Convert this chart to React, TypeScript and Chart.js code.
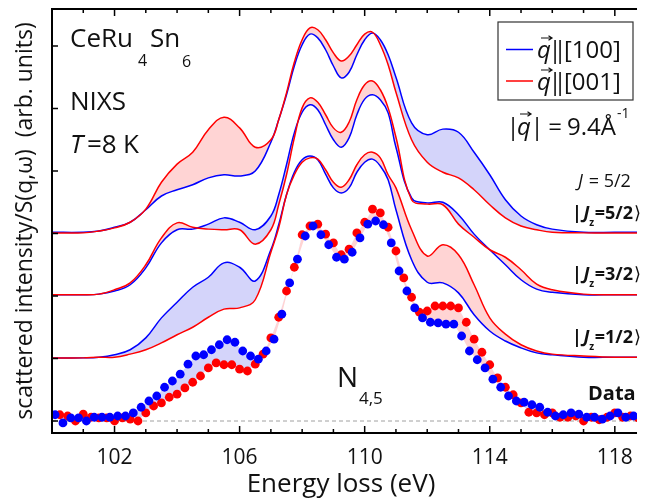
import React, { useEffect, useRef } from "react";
import { Chart, registerables } from "chart.js";

Chart.register(...registerables);

// ---------- data ----------
// energy grid of the calculated spectra (eV)
const curveEnergy = [100, 101, 101.5, 102, 102.5, 103, 103.5, 104, 104.5, 105, 105.5, 106, 106.5, 107, 107.25, 107.5, 107.75, 108, 108.25, 108.5, 108.75, 109, 109.25, 109.5, 109.75, 110, 110.25, 110.5, 110.75, 111, 111.5, 112, 112.5, 113, 113.5, 114, 114.5, 115, 115.5, 116, 117, 118, 119];

// |Jz=5/2> (offset +3)
const calc52_q100 = [3.02, 3.02, 3.04, 3.10, 3.18, 3.38, 3.60, 3.70, 3.78, 3.89, 3.94, 3.92, 4.00, 4.46, 4.82, 5.22, 5.68, 6.02, 6.19, 6.13, 5.94, 5.68, 5.49, 5.58, 5.86, 6.10, 6.21, 6.10, 5.86, 5.50, 4.77, 4.58, 4.67, 4.62, 4.30, 3.94, 3.54, 3.28, 3.14, 3.07, 3.02, 3.02, 3.02];
const calc52_q001 = [3.01, 3.01, 3.04, 3.09, 3.18, 3.39, 3.82, 4.11, 4.30, 4.66, 4.86, 4.69, 4.38, 4.50, 4.82, 5.25, 5.74, 6.10, 6.29, 6.26, 6.10, 5.89, 5.76, 5.84, 6.02, 6.19, 6.22, 6.02, 5.70, 5.26, 4.50, 4.14, 3.98, 3.89, 3.70, 3.46, 3.25, 3.12, 3.06, 3.02, 3.01, 3.01, 3.01];
// |Jz=3/2> (offset +2)
const calc32_q100 = [2.02, 2.02, 2.03, 2.08, 2.18, 2.45, 2.85, 3.06, 3.07, 3.15, 3.25, 3.18, 3.06, 3.28, 3.62, 4.10, 4.61, 4.94, 5.06, 4.98, 4.74, 4.50, 4.38, 4.53, 4.90, 5.15, 5.22, 5.14, 4.93, 4.38, 3.57, 3.49, 3.50, 3.30, 2.99, 2.74, 2.50, 2.26, 2.11, 2.06, 2.02, 2.02, 2.02];
const calc32_q001 = [2.02, 2.02, 2.03, 2.10, 2.21, 2.50, 2.93, 3.17, 3.10, 3.07, 3.06, 3.06, 2.83, 3.06, 3.46, 3.94, 4.53, 5.01, 5.17, 5.10, 4.90, 4.69, 4.62, 4.78, 5.14, 5.38, 5.44, 5.30, 5.01, 4.54, 3.54, 3.47, 3.46, 3.15, 2.94, 2.74, 2.62, 2.42, 2.19, 2.10, 2.03, 2.02, 2.02];
// |Jz=1/2> (offset +1)
const calc12_q100 = [1.01, 1.01, 1.02, 1.06, 1.14, 1.33, 1.65, 1.90, 2.14, 2.30, 2.53, 2.46, 2.24, 2.74, 3.14, 3.62, 3.98, 4.18, 4.24, 4.18, 3.95, 3.73, 3.65, 3.73, 3.98, 4.14, 4.19, 4.08, 3.86, 3.38, 2.58, 2.22, 2.21, 2.05, 1.70, 1.44, 1.28, 1.17, 1.09, 1.06, 1.02, 1.02, 1.02];
const calc12_q001 = [1.01, 1.01, 1.02, 1.02, 1.07, 1.14, 1.25, 1.38, 1.50, 1.66, 1.79, 1.81, 1.94, 2.70, 3.09, 3.62, 3.94, 4.14, 4.21, 4.19, 4.02, 3.82, 3.74, 3.86, 4.10, 4.26, 4.30, 4.21, 3.94, 3.73, 3.06, 2.64, 2.82, 2.66, 2.18, 1.65, 1.39, 1.22, 1.12, 1.07, 1.04, 1.02, 1.02];

// measured NIXS data
const dataEnergy_q100 = [100.1, 100.35, 100.6, 100.85, 101.1, 101.35, 101.6, 101.85, 102.1, 102.35, 102.6, 102.85, 103.1, 103.35, 103.6, 103.85, 104.1, 104.35, 104.6, 104.85, 105.1, 105.35, 105.6, 105.85, 106.1, 106.35, 106.6, 106.85, 107.1, 107.35, 107.6, 107.85, 108.1, 108.35, 108.6, 108.85, 109.1, 109.35, 109.6, 109.85, 110.1, 110.35, 110.6, 110.85, 111.1, 111.35, 111.6, 111.85, 112.1, 112.35, 112.6, 112.85, 113.1, 113.35, 113.6, 113.85, 114.1, 114.35, 114.6, 114.85, 115.1, 115.35, 115.6, 115.85, 116.1, 116.35, 116.6, 116.85, 117.1, 117.35, 117.6, 117.85, 118.1, 118.35, 118.6];
const dataY_q100 = [0.10, -0.03, 0.05, 0.05, 0.00, 0.06, 0.06, 0.06, 0.08, 0.08, 0.13, 0.22, 0.32, 0.40, 0.54, 0.64, 0.75, 0.91, 1.04, 1.06, 1.14, 1.22, 1.30, 1.26, 1.12, 1.04, 0.99, 1.12, 1.31, 1.71, 2.21, 2.59, 2.96, 3.12, 2.98, 2.82, 2.62, 2.59, 2.70, 2.93, 3.15, 3.20, 3.14, 2.85, 2.40, 2.08, 1.81, 1.65, 1.58, 1.57, 1.55, 1.55, 1.36, 1.12, 0.98, 0.85, 0.67, 0.54, 0.40, 0.32, 0.30, 0.26, 0.22, 0.14, 0.08, 0.10, 0.13, 0.11, 0.06, 0.06, 0.03, 0.08, 0.13, 0.06, 0.08];
const dataEnergy_q001 = [100.25, 100.5, 100.75, 101, 101.25, 101.5, 101.75, 102, 102.25, 102.5, 102.75, 103, 103.25, 103.5, 103.75, 104, 104.25, 104.5, 104.75, 105, 105.25, 105.5, 105.75, 106, 106.25, 106.5, 106.75, 107, 107.25, 107.5, 107.75, 108, 108.25, 108.5, 108.75, 109, 109.25, 109.5, 109.75, 110, 110.25, 110.5, 110.75, 111, 111.25, 111.5, 111.75, 112, 112.25, 112.5, 112.75, 113, 113.25, 113.5, 113.75, 114, 114.25, 114.5, 114.75, 115, 115.25, 115.5, 115.75, 116, 116.25, 116.5, 116.75, 117, 117.25, 117.5, 117.75, 118, 118.25, 118.5, 118.75];
const dataY_q001 = [0.10, 0.08, 0.00, 0.11, 0.06, 0.05, 0.05, 0.00, 0.05, 0.03, 0.00, 0.13, 0.24, 0.29, 0.38, 0.43, 0.53, 0.62, 0.72, 0.85, 0.93, 0.90, 0.90, 0.83, 0.80, 0.91, 1.07, 1.33, 1.66, 2.08, 2.46, 2.98, 3.12, 3.15, 2.99, 2.85, 2.66, 2.75, 3.01, 3.18, 3.39, 3.33, 3.10, 2.72, 2.29, 1.98, 1.74, 1.76, 1.84, 1.84, 1.84, 1.81, 1.58, 1.31, 1.10, 0.90, 0.69, 0.54, 0.42, 0.29, 0.14, 0.13, 0.10, 0.13, 0.06, 0.06, 0.08, 0.00, 0.06, 0.02, 0.06, 0.13, 0.06, 0.08, 0.05];

// axes
const xTickValues = [100, 101, 102, 103, 104, 105, 106, 107, 108, 109, 110, 111, 112, 113, 114, 115, 116, 117, 118];
const xMajorTicks = [102, 106, 110, 114, 118];
const yTickValues = [0, 1, 2, 3, 4, 5, 6];
const X_MIN = 100;
const X_MAX = 118.71;
const Y_MIN = -0.192;
const Y_MAX = 6.592;

const X_TITLE = "Energy loss (eV)";
const Y_TITLE = "scattered intensity/S(q,\u03C9)  (arb. units)";
const J_LABELS = ["=5/2", "=3/2", "=1/2"];

// ---------- style ----------
const FONT = "'Open Sans', 'DejaVu Sans', sans-serif";
const BLUE = "#0000ff";
const RED = "#ff0000";
const BLUE_FILL = "rgba(212,212,250,1)";
const RED_FILL = "rgba(255,212,212,1)";
const TEXT = "#111";

const pts = (xs: number[], ys: number[]) => xs.map((x, i) => ({ x, y: ys[i] }));

const curveDs = (label: string, vals: number[], color: string, order: number, fillTarget?: number) => ({
  label,
  data: pts(curveEnergy, vals),
  borderColor: color,
  borderWidth: 1.5,
  pointRadius: 0,
  tension: 0.4,
  fill: fillTarget === undefined ? false : { target: fillTarget, above: BLUE_FILL, below: RED_FILL },
  order,
});

const f = (size: number, opts: { bold?: boolean; italic?: boolean } = {}) =>
  `${opts.italic ? "italic " : ""}${opts.bold ? "bold " : ""}${size}px ${FONT}`;

const drawArrow = (ctx: CanvasRenderingContext2D, x1: number, x2: number, y: number) => {
  ctx.beginPath();
  ctx.moveTo(x1, y);
  ctx.lineTo(x2, y);
  ctx.moveTo(x2 - 3.5, y - 2.2);
  ctx.lineTo(x2, y);
  ctx.lineTo(x2 - 3.5, y + 2.2);
  ctx.stroke();
};

const decorPlugin = {
  id: "decor",
  beforeDatasetsDraw(chart: any) {
    const { ctx, chartArea: ca, scales } = chart;
    const y0 = scales.y.getPixelForValue(0);
    ctx.save();
    ctx.strokeStyle = "#a0a0a0";
    ctx.lineWidth = 1;
    ctx.setLineDash([4, 3]);
    ctx.beginPath();
    ctx.moveTo(ca.left, y0);
    ctx.lineTo(ca.right, y0);
    ctx.stroke();
    ctx.restore();
  },
  afterDraw(chart: any) {
    const { ctx, chartArea: ca, scales } = chart;
    const xs = scales.x;
    const ys = scales.y;
    ctx.save();
    ctx.setLineDash([]);
    // frame
    ctx.strokeStyle = "#000";
    ctx.lineWidth = 2;
    ctx.beginPath();
    ctx.moveTo(ca.left, ca.top - 1);
    ctx.lineTo(ca.left, ca.bottom + 1);
    ctx.moveTo(ca.left - 1, ca.bottom);
    ctx.lineTo(ca.right, ca.bottom);
    ctx.moveTo(ca.left - 1, ca.top);
    ctx.lineTo(ca.right, ca.top);
    ctx.stroke();
    // ticks (inward)
    ctx.lineWidth = 1.5;
    ctx.beginPath();
    for (const e of xTickValues) {
      const px = xs.getPixelForValue(e);
      if (px <= ca.left + 1 || px > ca.right) continue;
      const len = xMajorTicks.includes(e) ? 7 : 4;
      ctx.moveTo(px, ca.bottom);
      ctx.lineTo(px, ca.bottom - len);
      ctx.moveTo(px, ca.top);
      ctx.lineTo(px, ca.top + len);
    }
    for (const v of yTickValues) {
      const py = ys.getPixelForValue(v);
      ctx.moveTo(ca.left, py);
      ctx.lineTo(ca.left + 6, py);
    }
    ctx.stroke();

    ctx.fillStyle = TEXT;
    ctx.textBaseline = "alphabetic";
    const t = (s: string, x: number, y: number, size: number, o: { bold?: boolean; italic?: boolean; align?: CanvasTextAlign } = {}) => {
      ctx.font = f(size, o);
      ctx.textAlign = o.align || "left";
      ctx.fillText(s, x, y);
      return ctx.measureText(s).width;
    };

    // sample / method / temperature
    t("CeRu", 70, 47, 26);
    t("4", 138, 66, 16);
    t("Sn", 150, 47, 26);
    t("6", 182, 67, 16);
    t("NIXS", 70, 110, 26);
    t("T", 70, 153, 26, { italic: true });
    t("=8", 87, 153, 26);
    t("K", 123, 153, 26);

    // legend box
    ctx.strokeStyle = "#333";
    ctx.lineWidth = 1.2;
    ctx.strokeRect(498, 22, 135, 78);
    ctx.lineWidth = 1.5;
    ctx.strokeStyle = BLUE;
    ctx.beginPath();
    ctx.moveTo(506, 49.5);
    ctx.lineTo(533, 49.5);
    ctx.stroke();
    ctx.strokeStyle = RED;
    ctx.beginPath();
    ctx.moveTo(506, 81);
    ctx.lineTo(533, 81);
    ctx.stroke();
    ctx.strokeStyle = TEXT;
    ctx.lineWidth = 1.2;
    const legendRows: [string, number][] = [["[100]", 58], ["[001]", 90]];
    for (const [lab, base] of legendRows) {
      t("q", 537, base, 24, { italic: true });
      drawArrow(ctx, 541, 552, base - 20);
      t("|", 555, base, 24, { align: "center" });
      t("|", 560, base, 24, { align: "center" });
      t(lab, 564, base, 24);
    }
    // |q| = 9.4 Å^-1
    t("|", 513, 135, 24, { align: "center" });
    t("q", 517, 135, 24, { italic: true });
    drawArrow(ctx, 520, 531, 114);
    t("|", 537, 135, 24, { align: "center" });
    t("=", 555, 135, 24, { align: "center" });
    t("9.4\u00C5", 567, 135, 24);
    t("-1", 617, 118, 14);

    // J labels
    t("J", 578, 187, 18, { italic: true });
    t(" = 5/2", 584, 187, 18);
    const jBases = [219, 280, 343];
    J_LABELS.forEach((lab, i) => {
      const base = jBases[i];
      let x = 572;
      x += t("|", x, base, 18, { bold: true }) + 1.5;
      x += t("J", x, base, 18, { bold: true, italic: true });
      x += t("z", x, base + 7, 10, { bold: true }) + 0.5;
      x += t(lab, x, base, 18, { bold: true }) + 1;
      t("\u27E9", x, base, 18);
    });
    t("Data", 588, 400, 20, { bold: true });
    t("N", 337, 387, 28);
    t("4,5", 359, 404, 17);

    // x-axis title
    t(X_TITLE, 341, 492, 26, { align: "center" });
    ctx.restore();
  },
};

export default function App() {
  const ref = useRef<HTMLCanvasElement>(null);
  useEffect(() => {
    if (!ref.current) return;
    const chart = new Chart(ref.current, {
      type: "line",
      data: {
        datasets: [
          curveDs("|Jz=5/2> q||[100]", calc52_q100, BLUE, 3, 1),
          curveDs("|Jz=5/2> q||[001]", calc52_q001, RED, 2),
          curveDs("|Jz=3/2> q||[100]", calc32_q100, BLUE, 3, 3),
          curveDs("|Jz=3/2> q||[001]", calc32_q001, RED, 2),
          curveDs("|Jz=1/2> q||[100]", calc12_q100, BLUE, 3, 5),
          curveDs("|Jz=1/2> q||[001]", calc12_q001, RED, 2),
          {
            label: "Data q||[100]",
            data: pts(dataEnergy_q100, dataY_q100),
            showLine: true,
            borderColor: "rgba(0,0,0,0)",
            borderWidth: 1,
            pointRadius: 4.4,
            pointBorderWidth: 0,
            pointBackgroundColor: BLUE,
            backgroundColor: BLUE,
            fill: { target: 7, above: BLUE_FILL, below: RED_FILL },
            order: 0,
          },
          {
            label: "Data q||[001]",
            data: pts(dataEnergy_q001, dataY_q001),
            showLine: true,
            borderColor: "rgba(0,0,0,0)",
            borderWidth: 1,
            pointRadius: 4.4,
            pointBorderWidth: 0,
            pointBackgroundColor: RED,
            backgroundColor: RED,
            fill: false,
            order: 1,
          },
        ] as any,
      },
      options: {
        responsive: false,
        animation: false,
        events: [],
        layout: { padding: { top: 9, right: 0, left: 0, bottom: 0 } },
        plugins: {
          legend: { display: false },
          tooltip: { enabled: false },
          filler: { drawTime: "beforeDatasetsDraw", propagate: false },
        } as any,
        scales: {
          x: {
            type: "linear",
            min: X_MIN,
            max: X_MAX,
            grid: { display: false, drawTicks: false },
            border: { display: false },
            ticks: {
              stepSize: 1,
              includeBounds: false,
              autoSkip: false,
              maxRotation: 0,
              padding: 12,
              color: TEXT,
              font: { family: FONT, size: 21 },
              callback: (v: any) => (xMajorTicks.includes(Number(v)) ? String(v) : ""),
            },
            afterFit: (s: any) => {
              s.height = 67;
            },
          },
          y: {
            type: "linear",
            min: Y_MIN,
            max: Y_MAX,
            grid: { display: false, drawTicks: false },
            border: { display: false },
            ticks: { display: false },
            title: {
              display: true,
              text: Y_TITLE,
              color: TEXT,
              font: { family: FONT, size: 23 },
              padding: { top: 12, bottom: 0 },
            },
            afterFit: (s: any) => {
              s.width = 52;
            },
          },
        },
      } as any,
      plugins: [decorPlugin],
    });
    return () => chart.destroy();
  }, []);
  return (
    <div style={{ position: "fixed", left: 0, top: 0, width: 645, height: 500, background: "#fff" }}>
      <canvas ref={ref} width={645} height={500} style={{ display: "block", width: 645, height: 500 }} />
    </div>
  );
}
